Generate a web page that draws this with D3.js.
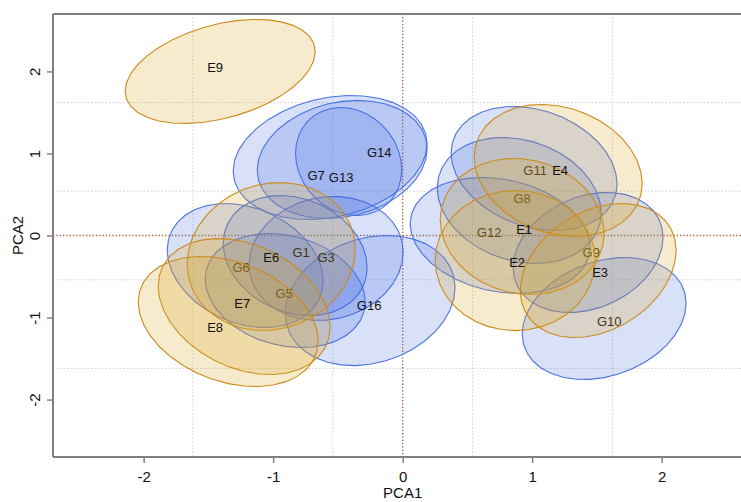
<!DOCTYPE html>
<html><head><meta charset="utf-8">
<script src="https://cdn.jsdelivr.net/npm/d3@7"></script>
<style>body{margin:0;background:#fff} svg{display:block} text{font-family:"Liberation Sans",Arial,sans-serif}</style>
</head><body><svg id="c" width="741" height="502"></svg>
<script>
// ---- data (PCA scores, data units) ----
const groups   = ["G1","G3","G5","G6","G7","G8","G9","G10","G11","G12","G13","G14","G16",
                  "E1","E2","E3","E4","E6","E7","E8","E9"];
const centerX  = [-0.830,-0.591,-0.907,-1.216,-0.560, 0.900, 1.432, 1.556, 1.015, 0.753,-0.417,-0.467,-0.251,
                   0.923, 0.869, 1.510, 1.201,-1.015,-1.224,-1.347,-1.409];
const centerY  = [-0.244,-0.280,-0.671,-0.366, 0.951, 0.427,-0.207,-1.012, 0.817, 0.000, 0.902, 0.927,-0.793,
                   0.110,-0.305,-0.427, 0.793,-0.256,-0.866,-1.049, 2.000];
const radiusX  = [0.556,0.595,0.618,0.602,0.749,0.633,0.579,0.633,0.641,0.695,0.410,0.656,0.656,
                  0.633,0.618,0.602,0.649,0.649,0.664,0.695,0.734];
const radiusY  = [0.732,0.756,0.695,0.756,0.756,0.768,0.732,0.744,0.756,0.707,0.659,0.720,0.793,
                  0.829,0.854,0.817,0.805,0.902,0.829,0.793,0.634];
const tilt     = [-0.20,0.10,-0.20,-0.25,0.22,-0.20,0.25,0.25,-0.25,-0.20,-0.15,0.18,0.20,
                  -0.10,0.00,0.30,-0.20,0.10,-0.30,-0.30,0.38];
const labelX   = [-0.784,-0.591,-0.915,-1.247,-0.668, 0.923, 1.456, 1.595, 1.023, 0.668,-0.475,-0.181,-0.259,
                   0.938, 0.884, 1.525, 1.216,-1.015,-1.239,-1.448,-1.448];
const labelY   = [-0.207,-0.268,-0.707,-0.390, 0.732, 0.451,-0.207,-1.049, 0.793, 0.037, 0.707, 1.012,-0.854,
                   0.073,-0.329,-0.451, 0.793,-0.268,-0.829,-1.122, 2.049];
const xTicks = [-2,-1,0,1,2];
const yTicks = [-2,-1,0,1,2];
const gridVals = [-1.62,-0.54,0.54,1.62];
const domain = [-2.7, 2.7];
const xTitle = "PCA1", yTitle = "PCA2";

// ---- layout ----
const svg = d3.select("#c");
const L = 53, T = 14, B = 457;
const x = d3.scaleLinear().domain(domain).range([L, L + 5.4*129.5]);
const y = d3.scaleLinear().domain(domain).range([B, T]);
const R = x(domain[1]);

const g = svg.append("g");
// grid
g.selectAll(".gv").data(gridVals).join("line")
  .attr("x1", d=>x(d)).attr("x2", d=>x(d)).attr("y1", T).attr("y2", B)
  .attr("stroke","#d0d0d0").attr("stroke-width",1).attr("stroke-dasharray","1.5,2");
g.selectAll(".gh").data(gridVals).join("line")
  .attr("y1", d=>y(d)).attr("y2", d=>y(d)).attr("x1", L).attr("x2", R)
  .attr("stroke","#d0d0d0").attr("stroke-width",1).attr("stroke-dasharray","1.5,2");
// zero lines
g.append("line").attr("x1",x(0)).attr("x2",x(0)).attr("y1",T).attr("y2",B)
  .attr("stroke","#a0603a").attr("stroke-width",1.3).attr("stroke-dasharray","1.3,2");
g.append("line").attr("y1",y(0)).attr("y2",y(0)).attr("x1",L).attr("x2",R)
  .attr("stroke","#a0603a").attr("stroke-width",1.3).attr("stroke-dasharray","1.3,2");

const style = {
  G: {fill:"#4169E1", stroke:"#4a72e4", fo:0.2},
  E: {fill:"#DAA520", stroke:"#cc8a1c", fo:0.22}
};
const line = d3.line().x(d=>x(d[0])).y(d=>y(d[1])).curve(d3.curveLinearClosed);
function ring(i){
  const phi = Math.asin(tilt[i]);
  return d3.range(36).map(k=>{
    const t = k/36*2*Math.PI;
    return [centerX[i] + radiusX[i]*Math.cos(t), centerY[i] + radiusY[i]*Math.sin(t+phi)];
  });
}
const order = ["G","E"];
order.forEach(type=>{
  const idx = groups.map((n,i)=>i).filter(i=>groups[i][0]===type);
  const st = style[type];
  idx.forEach(i=>{
    g.append("path").attr("d", line(ring(i)))
      .attr("fill", st.fill).attr("fill-opacity", st.fo)
      .attr("stroke", st.stroke).attr("stroke-width",1.1);
  });
  idx.forEach(i=>{
    g.append("text").attr("x", x(labelX[i])).attr("y", y(labelY[i]))
      .attr("text-anchor","middle").attr("dy","0.36em")
      .attr("font-size",13).attr("fill","#111").text(groups[i]);
  });
});

// box
const bc = "#808080";
svg.append("line").attr("x1",L).attr("x2",R).attr("y1",T).attr("y2",T).attr("stroke",bc).attr("stroke-width",2);
svg.append("line").attr("x1",L).attr("x2",R).attr("y1",B).attr("y2",B).attr("stroke",bc).attr("stroke-width",2);
svg.append("line").attr("x1",L).attr("x2",L).attr("y1",T).attr("y2",B).attr("stroke",bc).attr("stroke-width",2);

// axes
const xa = svg.append("g").attr("transform",`translate(0,${B})`)
  .call(d3.axisBottom(x).tickValues(xTicks).tickSize(6));
xa.select(".domain").remove();
xa.selectAll(".tick line").attr("stroke",bc).attr("stroke-width",1.5);
xa.selectAll(".tick text").attr("font-size",15).attr("fill","#111").attr("y",25).attr("dy",0)
  .text(d=>d<0?"-"+Math.abs(d):String(d));

const ya = svg.append("g").attr("transform",`translate(${L},0)`)
  .call(d3.axisLeft(y).tickValues(yTicks).tickSize(6));
ya.select(".domain").remove();
ya.selectAll(".tick line").attr("stroke",bc).attr("stroke-width",1.5);
ya.selectAll(".tick text").attr("font-size",15).attr("fill","#111")
  .attr("x",0).attr("dy",0).attr("text-anchor","middle")
  .attr("transform","translate(-13,0) rotate(-90)")
  .text(d=>d<0?"-"+Math.abs(d):String(d));

svg.append("text").attr("x",x(0)).attr("y",498).attr("text-anchor","middle")
  .attr("font-size",15).attr("fill","#111").text(xTitle);
svg.append("text").attr("transform",`translate(23,${(T+B)/2}) rotate(-90)`).attr("text-anchor","middle")
  .attr("font-size",15).attr("fill","#111").text(yTitle);
</script></body></html>
